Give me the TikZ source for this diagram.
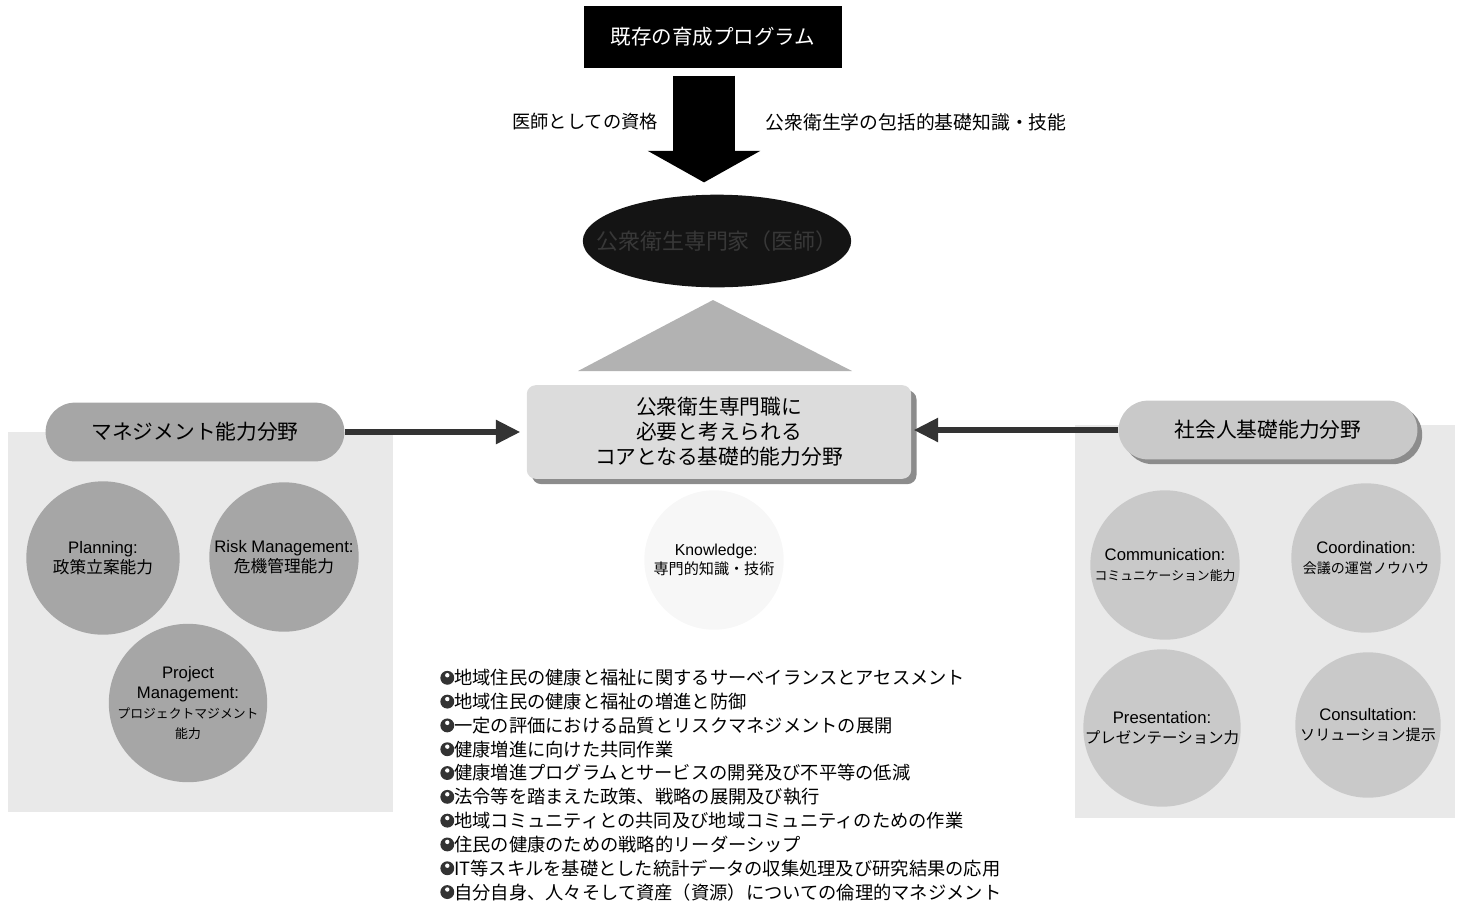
\documentclass[tikz,border=0pt]{standalone}
\usepackage{fontspec}
\setmainfont{Noto Sans CJK JP}
\newfontfamily\latinfont{Liberation Sans}
\usepackage{tikz}
\usetikzlibrary{positioning, arrows.meta, shapes.geometric, shapes.misc, shadows}
\usepackage{xcolor}

\newlength{\unitpx}\setlength{\unitpx}{0.5669pt}
\newcommand{\fs}[2]{\fontsize{#1}{#2}\selectfont}
\newcommand{\bullico}{\tikz[baseline=0pt]{\fill[black!80] (0.38em,0.38em) circle[radius=0.38em]; \fill[white] (0.38em,0.52em) circle[radius=0.12em];}}

\definecolor{fieldgray}{HTML}{A6A6A6}
\definecolor{socialgray}{HTML}{C9C9C9}
\definecolor{panelgray}{HTML}{E9E9E9}
\definecolor{coregray}{HTML}{DCDCDC}
\definecolor{arrowgray}{HTML}{333333}

\begin{document}
\begin{tikzpicture}[
        x=0.02cm, y=-0.02cm,
        progbox/.style={rectangle, fill=black, text=white, minimum width=260\unitpx,
            minimum height=63\unitpx, font=\fs{11.7}{14}},
        docnode/.style={ellipse, fill=black!92, text=black!78, minimum width=256\unitpx,
            minimum height=93\unitpx, inner xsep=-26\unitpx, inner ysep=0pt, font=\fs{12.5}{15}},
        corebox/.style={rectangle, rounded corners=9\unitpx, fill=coregray, minimum width=386\unitpx,
            minimum height=94\unitpx, align=center, font=\fs{11.8}{14.2},
            drop shadow={shadow xshift=3pt, shadow yshift=-3pt, fill=black!45, opacity=1}},
        fieldpill/.style={rounded rectangle, minimum width=300\unitpx, minimum height=59\unitpx,
            inner sep=0pt, font=\fs{11.8}{14}},
        skill/.style={circle, minimum size=154\unitpx, inner sep=0pt, align=center, font=\fs{9.5}{11.4}},
        label/.style={font=\fs{10.4}{12}},
        bigarrow/.style={draw=black, line width=62\unitpx, -{Triangle[length=18pt, width=63.5pt]}},
        sidearrow/.style={draw=arrowgray, line width=6\unitpx, -{Triangle[length=14pt, width=13pt]}}
    ]
    \useasboundingbox (0,0) rectangle (1463,907);

    % Background panels
    \fill[panelgray] (8,432) rectangle (393,812);
    \fill[panelgray] (1075,425) rectangle (1455,818);

    % Existing programme and doctor
    \node[progbox] (prog) at (713,37) {既存の育成プログラム};
    \node[docnode] (doc) at (717,241) {公衆衛生専門家（医師）};
    \draw[bigarrow, shorten <=7\unitpx, shorten >=12\unitpx]
        ([xshift=-9\unitpx]prog.south) -- ([xshift=-9\unitpx]prog.south |- doc.north);
    \node[label] (qual) at (585,122) {医師としての資格};
    \node[label, font=\fs{10.7}{12}] (basic) at (916,122) {公衆衛生学の包括的基礎知識・技能};

    % Core fields
    \fill[black!30] (713,300) -- (852,371) -- (578,371) -- cycle;
    \node[corebox] (core) at (719,432) {公衆衛生専門職に\\必要と考えられる\\コアとなる基礎的能力分野};

    % Side fields
    \node[fieldpill, fill=fieldgray] (mgmt) at (195,432) {マネジメント能力分野};
    \node[fieldpill, fill=socialgray, drop shadow={fill=black!45, opacity=1}] (social) at (1268,430) {社会人基礎能力分野};
    \draw[sidearrow, shorten >=6\unitpx] (mgmt.east) -- (mgmt.east -| core.west);
    \draw[sidearrow, shorten >=2\unitpx] (social.west) -- (social.west -| core.east);

    % Management circles
    \node[skill, fill=fieldgray] (plan) at (103,558) {{\latinfont Planning:}\\政策立案能力};
    \node[skill, fill=fieldgray, minimum size=150\unitpx] (risk) at (284,557) {{\latinfont Risk Management:}\\危機管理能力};
    \node[skill, fill=fieldgray] (proj) at (188,703)
        {{\latinfont Project}\\{\latinfont Management:}\\{\fs{7.3}{11.4}プロジェクトマジメント}\\{\fs{7.3}{11.4}能力}};

    % Social circles
    \node[skill, fill=socialgray, minimum size=150\unitpx] (comm) at (1165,565)
        {{\latinfont Communication:}\\{\fs{7.3}{11.4}コミュニケーション能力}};
    \node[skill, fill=socialgray, minimum size=150\unitpx] (coord) at (1366,558)
        {{\latinfont Coordination:}\\{\fs{8}{11.4}会議の運営ノウハウ}};
    \node[skill, fill=socialgray, minimum size=150\unitpx] (pres) at (1162,728)
        {{\latinfont Presentation:}\\{\fs{8.8}{11.4}プレゼンテーション力}};
    \node[skill, fill=socialgray, minimum size=146\unitpx] (cons) at (1368,725)
        {{\latinfont Consultation:}\\{\fs{8.6}{11.4}ソリューション提示}};

    % Knowledge
    \node[skill, fill=black!3, minimum size=140\unitpx, font=\fs{8.6}{11}] (know) at (714,560)
        {{\latinfont\fs{9}{11} Knowledge:}\\専門的知識・技術};

    % Task list
    \node[anchor=north west, align=left, inner sep=0pt, font=\fs{10.4}{13.55}] (tasks) at (440,669) {%
        \bullico 地域住民の健康と福祉に関するサーベイランスとアセスメント\\
        \bullico 地域住民の健康と福祉の増進と防御\\
        \bullico 一定の評価における品質とリスクマネジメントの展開\\
        \bullico 健康増進に向けた共同作業\\
        \bullico 健康増進プログラムとサービスの開発及び不平等の低減\\
        \bullico 法令等を踏まえた政策、戦略の展開及び執行\\
        \bullico 地域コミュニティとの共同及び地域コミュニティのための作業\\
        \bullico 住民の健康のための戦略的リーダーシップ\\
        \bullico IT等スキルを基礎とした統計データの収集処理及び研究結果の応用\\
        \bullico 自分自身、人々そして資産（資源）についての倫理的マネジメント};

\end{tikzpicture}
\end{document}
